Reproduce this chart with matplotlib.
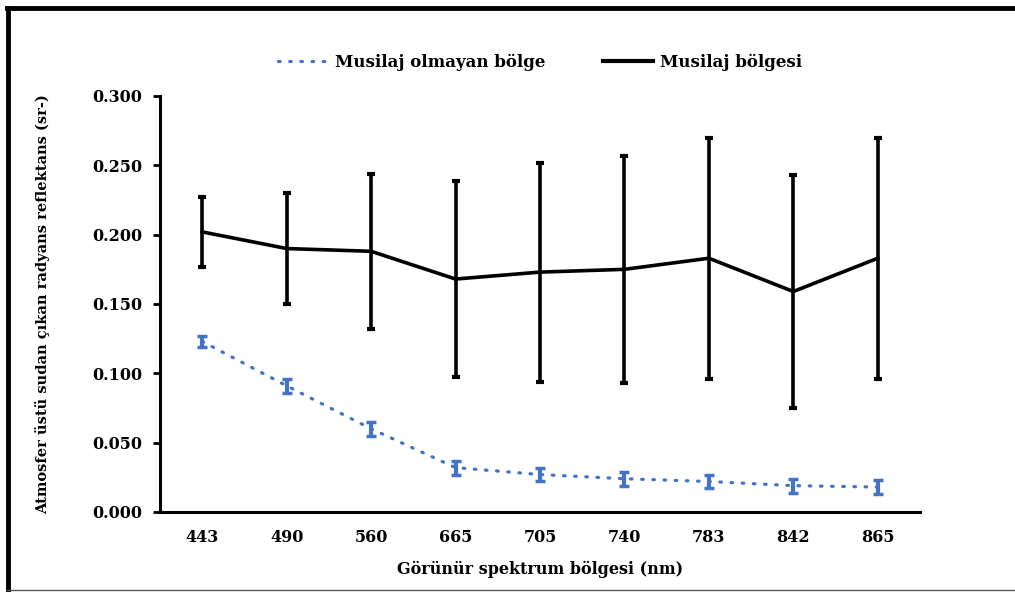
import matplotlib.pyplot as plt
from matplotlib.lines import Line2D
plt.rcParams.update({'font.family': 'DejaVu Serif', 'font.weight': 'bold'})

#. data
bands = ['443', '490', '560', '665', '705', '740', '783', '842', '865']
musilaj = [0.202, 0.190, 0.188, 0.168, 0.173, 0.175, 0.183, 0.159, 0.183]
musilaj_err = [0.025, 0.040, 0.056, 0.071, 0.079, 0.082, 0.087, 0.084, 0.087]
temiz = [0.123, 0.091, 0.060, 0.032, 0.027, 0.024, 0.022, 0.019, 0.018]
temiz_err = [0.004, 0.005, 0.005, 0.005, 0.005, 0.005, 0.005, 0.005, 0.005]

blue = '#4472C4'
dots = (0, (0.5, 3.0))

#. plotting
fig = plt.figure(figsize=(10.15, 5.92), dpi=100)
ax = fig.add_axes([160/1015, 1-512/592, 760/1015, 416/592])
x = range(len(bands))

ax.errorbar(x, temiz, yerr=temiz_err, color=blue, lw=2.3, ls=dots,
            dash_capstyle='round', ecolor=blue, elinewidth=3, capsize=3.5, capthick=2.5,
            label='Musilaj olmayan bölge', zorder=3)
ax.errorbar(x, musilaj, yerr=musilaj_err, color='black', lw=2.6, ecolor='black',
            elinewidth=2.6, capsize=3.2, capthick=3, label='Musilaj bölgesi', zorder=3)

ax.set_xlim(-0.5, len(bands)-0.5)
ax.set_ylim(0, 0.3)
ax.set_xticks(list(x))
ax.set_xticklabels(bands)
ax.set_yticks([0, 0.05, 0.1, 0.15, 0.2, 0.25, 0.3])
ax.set_yticklabels(['%.3f' % v for v in [0, 0.05, 0.1, 0.15, 0.2, 0.25, 0.3]])
ax.tick_params(axis='x', length=0, pad=12, labelsize=11.5)
ax.tick_params(axis='y', length=5, width=2, direction='out', pad=8, labelsize=11.5)
for s in ['top', 'right']:
    ax.spines[s].set_visible(False)
for s in ['left', 'bottom']:
    ax.spines[s].set_linewidth(2.2)

ax.set_xlabel('Görünür spektrum bölgesi (nm)', fontsize=11.5, fontweight='bold', labelpad=11)
ax.set_ylabel('Atmosfer üstü sudan çıkan radyans reflektans (sr-)', fontsize=10.5,
              fontweight='bold', labelpad=30)

h, l = ax.get_legend_handles_labels()
h = [Line2D([], [], color=blue, lw=2.3, ls=dots, dash_capstyle='round'),
     Line2D([], [], color='black', lw=3)]
fig.legend(h, l, loc='center', bbox_to_anchor=(540/1015, 1-62/592), ncol=2, frameon=False,
           fontsize=12, handlelength=3.0, handletextpad=0.4, columnspacing=3.5)

#. figure frame
fig.add_artist(Line2D([0.007, 1], [1-8/592, 1-8/592], color='black', lw=3.5, transform=fig.transFigure))
fig.add_artist(Line2D([7.5/1015, 7.5/1015], [1-8/592, 0.003], color='black', lw=3.5, transform=fig.transFigure))
fig.add_artist(Line2D([0.007, 1], [2/592, 2/592], color='#555555', lw=1, transform=fig.transFigure))

plt.savefig('out.png', dpi=100)
